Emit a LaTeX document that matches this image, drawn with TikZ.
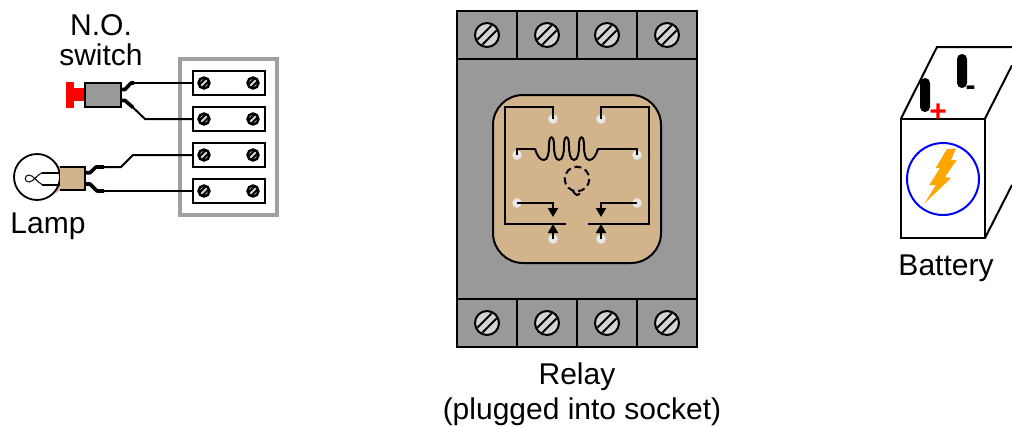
\documentclass[tikz,border=0pt]{standalone}
\usepackage{fontspec}
\setmainfont{Liberation Sans}
\usetikzlibrary{arrows.meta}
\definecolor{bodygray}{HTML}{999999}
\definecolor{framegray}{HTML}{A0A0A0}
\definecolor{screwgray}{HTML}{D3D3D3}
\definecolor{tanbase}{HTML}{D2B48C}
\definecolor{pinwhite}{HTML}{E8E8E8}
\definecolor{boltorange}{HTML}{FFA500}
\tikzset{
  line/.style={draw=black,line width=2pt,line join=miter},
  thin wire/.style={draw=black,line width=2pt},
  stub/.style={draw=black,line width=3.6pt,line join=round},
  term/.style={draw=black,line width=2pt,fill=white,minimum width=72pt,minimum height=24pt,inner sep=0pt},
  pinnode/.style={circle,fill=pinwhite,minimum size=9.5pt,inner sep=0pt},
  label/.style={font=\fontsize{30}{30}\selectfont,anchor=base,inner sep=0pt},
  tip/.style={-{Triangle[width=10pt,length=9pt]},line width=2pt,shorten >=0pt},
  bigscrew/.pic={
    \draw[line width=2pt,fill=screwgray] (0,0) circle (12);
    \draw[line width=2pt] (-9.6,4.6)--(4.6,-9.6) (-4.6,9.6)--(9.6,-4.6);
  },
  smallscrew/.pic={
    \draw[line width=2.4pt,fill=screwgray] (0,0) circle (5.5);
    \draw[line width=1.8pt] (-4.6,1.6)--(1.6,-4.6) (-1.6,4.6)--(4.6,-1.6);
  }
}
\begin{document}
\begin{tikzpicture}[x=1pt,y=-1pt]
\useasboundingbox (0,0) rectangle (1012,426);
% ---------- left panel ----------
\draw[framegray,line width=4pt] (180,59) rectangle (277,215);
\node[term] (t1) at (229,83) {};
\node[term] (t2) at (229,119) {};
\node[term] (t3) at (229,155) {};
\node[term] (t4) at (229,191) {};
\foreach \yy in {83,119,155,191}{
  \pic at (204,\yy) {smallscrew};
  \pic at (253,\yy) {smallscrew};
}
% switch
\fill[red] (66,82) rectangle (74,108);
\fill[red] (74,88) rectangle (85,101);
\node[draw=black,line width=2pt,fill=bodygray,minimum width=36pt,minimum height=24pt,inner sep=0pt] (sw) at (102.5,94.7) {};
\coordinate (swa) at (sw.east |- 0,89.5);
\coordinate (swb) at (sw.east |- 0,100.5);
\coordinate (swa1) at (125,89.5);
\coordinate (swa2) at (131,83);
\coordinate (swa3) at (134,83);
\coordinate (swb1) at (125,100.5);
\coordinate (swb2) at (133,107.5);
\coordinate (swb3) at (145,119);
\draw[stub] (swa)--(swa1)--(swa2)--(swa3);
\draw[thin wire] (swa3)--(t1.west);
\draw[stub] (swb)--(swb1)--(swb2);
\draw[thin wire] (swb2)--(swb3)--(t2.west);
% lamp
\fill[tanbase] (55,161.5) .. controls (58,166) and (60,172) .. (60,178) .. controls (60,184) and (58,190) .. (55,194) -- (60,190) -- (84.5,190) -- (84.5,166.7) -- (60,166.7) -- cycle;
\draw[line width=1.8pt] (37,177) circle (23);
\fill[tanbase] (60,167) rectangle (84,189.5);
\draw[line width=2pt] (60,166.7) -- (84.5,166.7) -- (84.5,190) -- (60,190);
\coordinate (fa) at (60,172.7);
\coordinate (fb) at (60,184.5);
\draw[line width=2pt] (fa)--(42,172.7);
\draw[line width=2pt] (fb)--(42,184.5);
\draw[line width=1pt] (42,172.7) .. controls (37,175) and (33,182) .. (29,182) .. controls (24,182) and (24,175) .. (29,175) .. controls (33,175) and (37,182) .. (42,184.5);
\coordinate (la) at (84.5,172.7);
\coordinate (la1) at (90,172.7);
\coordinate (la2) at (96,167);
\coordinate (la3) at (104,167);
\coordinate (la4) at (121,167);
\coordinate (la5) at (133,155);
\coordinate (lb) at (84.5,184);
\coordinate (lb1) at (90,184);
\coordinate (lb2) at (97,191);
\coordinate (lb3) at (104,191);
\draw[stub] (la)--(la1)--(la2)--(la3);
\draw[thin wire] (la3)--(la4)--(la5)--(t3.west);
\draw[stub] (lb)--(lb1)--(lb2)--(lb3);
\draw[thin wire] (lb3)--(t4.west);
\node[label] (no) at (101,35.5) {N.O.};
\node[label] (swl) at (101,65) {switch};
\node[label] (lamp) at (48,233) {Lamp};
% ---------- relay ----------
\draw[line,fill=bodygray] (457,11) rectangle (697,347);
\draw[line] (457,59)--(697,59) (457,299)--(697,299);
\draw[line] (517,11)--(517,59) (577,11)--(577,59) (637,11)--(637,59);
\draw[line] (517,299)--(517,347) (577,299)--(577,347) (637,299)--(637,347);
\foreach \xx in {487,547,607,667}{
  \pic at (\xx,35) {bigscrew};
  \pic at (\xx,323) {bigscrew};
}
\draw[line,fill=tanbase,rounded corners=30pt] (493,95) rectangle (661,263);
\node[pinnode] (p1) at (553,119) {};
\node[pinnode] (p8) at (601,119) {};
\node[pinnode] (p2) at (517,155) {};
\node[pinnode] (p7) at (637,155) {};
\node[pinnode] (p3) at (517,203) {};
\node[pinnode] (p6) at (637,203) {};
\node[pinnode] (p4) at (553,239) {};
\node[pinnode] (p5) at (601,239) {};
\coordinate (barl) at (566,224);
\coordinate (barr) at (588,224);
\coordinate (cl) at (535,148.5);
\coordinate (cr) at (598,148.5);
\draw[line] (p1.center)--(553,107)--(505,107)--(505,224)--(barl);
\draw[line] (p8.center)--(601,107)--(649,107)--(649,224)--(barr);
\draw[line] (p2.center)--(517,148.5)--(cl);
\draw[line] (p7.center)--(637,148.5)--(cr);
\draw[line width=2pt] (cl) .. controls (537,156) and (540,160) .. (544,160)
  .. controls (548,160) and (549,152) .. (549,146) .. controls (549,140) and (550,137.3) .. (551.5,137.3)
  .. controls (553,137.3) and (554,140) .. (554,146) .. controls (554,152) and (555,160) .. (559,160)
  .. controls (563,160) and (564,152) .. (564,146) .. controls (564,140) and (565,137.3) .. (566.5,137.3)
  .. controls (568,137.3) and (569,140) .. (569,146) .. controls (569,152) and (570,160) .. (574,160)
  .. controls (578,160) and (579,152) .. (579,146) .. controls (579,140) and (580,137.3) .. (581.5,137.3)
  .. controls (583,137.3) and (584,140) .. (584,146) .. controls (584,152) and (585,160) .. (589,160)
  .. controls (593,160) and (596,156) .. (cr);
\draw[line width=2pt,dash pattern=on 7pt off 4pt] (577,179) circle (12.3);
\draw[line width=2pt] (573,191) .. controls (575,192) and (574,195) .. (577,195) .. controls (578,195) and (579,194.5) .. (580,193.5);
\draw[tip] (p3.center)--(553,203)--(553,217);
\draw[tip] (p6.center)--(601,203)--(601,217);
\draw[tip] (p4.center)--(553,224);
\draw[tip] (p5.center)--(601,224);
\node[label] (relay) at (577,384) {Relay};
\node[label] (plug) at (582,419) {(plugged into socket)};
% ---------- battery ----------
\draw[line] (901,118.5) rectangle (985,238);
\draw[line] (901,118.5)--(937,47)--(1012,47);
\draw[line] (985,118.5)--(1012,65.3);
\draw[line] (985,238)--(1012,185);
\fill[black,rounded corners=4.9pt] (920,78) rectangle (930,112);
\fill[black,rounded corners=4.9pt] (957,54) rectangle (967,88);
\node[label,text=red,font=\fontsize{30}{30}\selectfont\bfseries] (plus) at (938,121) {+};
\node[label,text=black,font=\fontsize{30}{30}\selectfont\bfseries] (minus) at (970.5,95) {-};
\draw[blue,line width=2pt] (943,179) circle (36);
\fill[boltorange] (947,149)--(956,148.5)--(951,160)--(956.7,160)--(945,177)--(951,178)--(924.3,203.5)--(936,185)--(929.3,185)--(940,168)--(935.7,168)--cycle;
\node[label] (bat) at (946,275) {Battery};
\end{tikzpicture}
\end{document}
